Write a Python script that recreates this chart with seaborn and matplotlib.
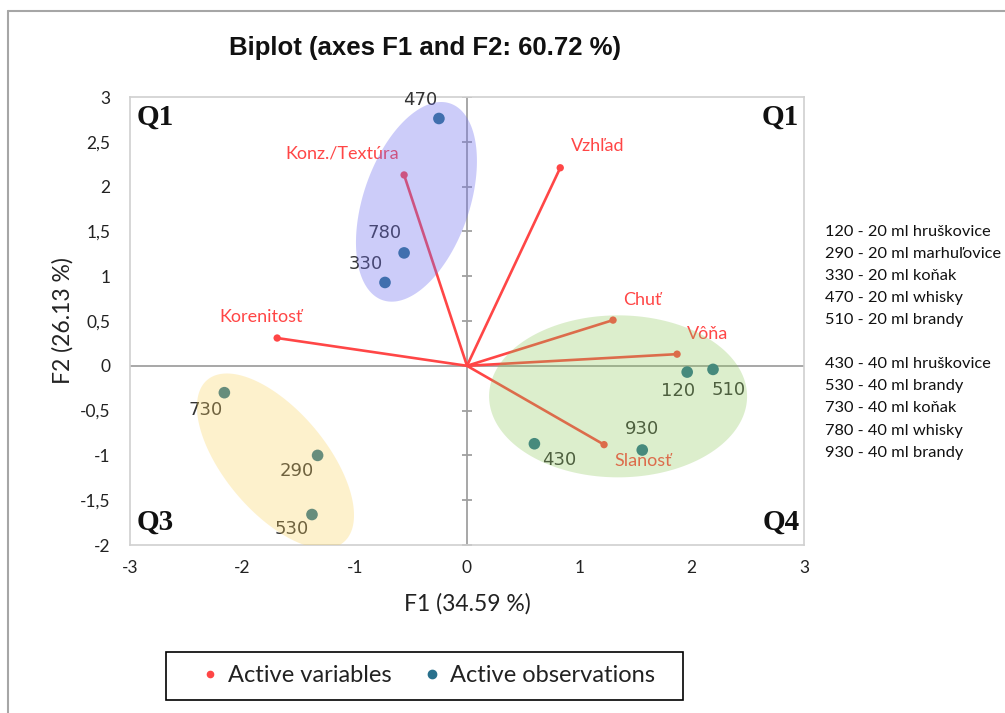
import numpy as np
import pandas as pd
import seaborn as sns
import matplotlib.pyplot as plt
from matplotlib.lines import Line2D
from matplotlib.patches import Rectangle

# observations (F1, F2)
obs_labels = ["120", "290", "330", "470", "510", "430", "530", "730", "780", "930"]
obs_f1 = [1.96, -1.33, -0.73, -0.25, 2.19, 0.60, -1.38, -2.16, -0.56, 1.56]
obs_f2 = [-0.07, -1.00, 0.93, 2.76, -0.04, -0.87, -1.66, -0.30, 1.26, -0.94]

# variables (F1, F2)
var_labels = ["Vzhľad", "Konz./Textúra", "Korenitosť", "Chuť", "Vôňa", "Slanosť"]
var_f1 = [0.83, -0.56, -1.69, 1.30, 1.87, 1.22]
var_f2 = [2.21, 2.13, 0.31, 0.51, 0.13, -0.88]

x_ticks = [-3, -2, -1, 0, 1, 2, 3]
y_ticks = [-2, -1.5, -1, -0.5, 0, 0.5, 1, 1.5, 2, 2.5, 3]
y_ticklabels = ["-2", "-1,5", "-1", "-0,5", "0", "0,5", "1", "1,5", "2", "2,5", "3"]

side_legend = ["120 - 20 ml hruškovice", "290 - 20 ml marhuľovice", "330 - 20 ml koňak",
               "470 - 20 ml whisky", "510 - 20 ml brandy", "",
               "430 - 40 ml hruškovice", "530 - 40 ml brandy", "730 - 40 ml koňak",
               "780 - 40 ml whisky", "930 - 40 ml brandy"]

# label offsets in pixels
obs_off = {"120": (-9, -19), "290": (-21, -16), "330": (-19, 18), "470": (-19, 19),
           "510": (16, -21), "430": (25, -16), "530": (-20, -14), "730": (-19, -17),
           "780": (-20, 20), "930": (0, 21)}
var_off = {"Vzhľad": (37, 22), "Konz./Textúra": (-62, 21), "Korenitosť": (-16, 21),
           "Chuť": (29, 20), "Vôňa": (30, 20), "Slanosť": (39, -16)}

obs = pd.DataFrame({"F1": obs_f1, "F2": obs_f2, "label": obs_labels})
var = pd.DataFrame({"F1": var_f1, "F2": var_f2, "label": var_labels})

sns.set_theme(style="white")
plt.rcParams["font.family"] = ["Lato", "DejaVu Sans"]

RED = "#ff4646"
OBS = "#28708c"
GRAY = "#a0a0a0"

fig = plt.figure(figsize=(10.05, 7.13), dpi=100)
ax = fig.add_axes([130 / 1005, 1 - 545 / 713, 674 / 1005, 448 / 713])
ax.set_xlim(-3, 3)
ax.set_ylim(-2, 3)

for s in ax.spines.values():
    s.set_color("#d0d0d0")
    s.set_linewidth(1.2)

# zero lines, tick marks on the vertical one
ax.axhline(0, color=GRAY, lw=1.3, zorder=1)
ax.axvline(0, color=GRAY, lw=1.3, zorder=1)
ax.plot([0] * len(y_ticks), y_ticks, ls="none", marker="_", ms=7, mew=1.3, color=GRAY, zorder=1)

# variable vectors
for _, r in var.iterrows():
    ax.plot([0, r.F1], [0, r.F2], color=RED, lw=1.9, zorder=2)
sns.scatterplot(data=var, x="F1", y="F2", color=RED, s=28, edgecolor="none", ax=ax, zorder=3)
for _, r in var.iterrows():
    ax.annotate(r.label, (r.F1, r.F2), xytext=var_off[r.label], textcoords="offset pixels",
                ha="center", va="center", color=RED, fontsize=13, zorder=3)

# observations
sns.scatterplot(data=obs, x="F1", y="F2", color=OBS, s=70, edgecolor="none", ax=ax, zorder=3)
for _, r in obs.iterrows():
    ax.annotate(r.label, (r.F1, r.F2), xytext=obs_off[r.label], textcoords="offset pixels",
                ha="center", va="center", color="#333333", fontsize=13,
                family="DejaVu Sans", zorder=3)


# group ellipses (drawn in pixel space, on top)
def ellipse(cx, cy, a, b, ang, color, alpha):
    t = np.linspace(0, 2 * np.pi, 200)
    px, py = ax.transData.transform((cx, cy))
    th = np.deg2rad(ang)
    ex = px + a * np.cos(t) * np.cos(th) - b * np.sin(t) * np.sin(th)
    ey = py + a * np.cos(t) * np.sin(th) + b * np.sin(t) * np.cos(th)
    pts = ax.transData.inverted().transform(np.column_stack([ex, ey]))
    ax.fill(pts[:, 0], pts[:, 1], color=color, alpha=alpha, lw=0, zorder=5)


ellipse(-0.45, 1.83, 104, 53, 71, (0.43, 0.43, 0.94), 0.35)
ellipse(-1.705, -1.063, 106, 51, 130, (0.98, 0.82, 0.35), 0.3)
ellipse(1.345, -0.341, 129, 81, 0, (0.55, 0.78, 0.35), 0.3)

# quadrant labels
qfont = dict(family="Liberation Serif", fontsize=21, fontweight="bold", color="#111111", zorder=6)
ax.text(0.01, 0.985, "Q1", transform=ax.transAxes, ha="left", va="top", **qfont)
ax.text(0.993, 0.985, "Q1", transform=ax.transAxes, ha="right", va="top", **qfont)
ax.text(0.01, 0.02, "Q3", transform=ax.transAxes, ha="left", va="bottom", **qfont)
ax.text(0.993, 0.02, "Q4", transform=ax.transAxes, ha="right", va="bottom", **qfont)

ax.set_xticks(x_ticks)
ax.set_xticklabels([str(v) for v in x_ticks])
ax.set_yticks(y_ticks)
ax.set_yticklabels(y_ticklabels)
ax.tick_params(axis="x", length=0, pad=11, labelsize=12.5, colors="#222222")
ax.tick_params(axis="y", length=0, pad=14, labelsize=12.5, colors="#222222")
ax.set_xlabel("F1 (34.59 %)", fontsize=16.5, color="#222222", labelpad=12)
ax.set_ylabel("F2 (26.13 %)", fontsize=16.5, color="#222222", labelpad=5)

fig.text(425 / 1005, 1 - 48 / 713, "Biplot (axes F1 and F2: 60.72 %)", ha="center", va="center",
         family="Liberation Sans", fontweight="bold", fontsize=18.5, color="#111111")

# side legend
for i, t in enumerate(side_legend):
    fig.text(825 / 1005, 1 - (231.7 + 22.1 * i) / 713, t, ha="left", va="center",
             fontsize=11.8, color="#111111")

# outer chart border (left and top edges visible)
fig.add_artist(Line2D([8 / 1005, 8 / 1005], [0, 1 - 11 / 713], transform=fig.transFigure,
                      color="#a6a6a6", lw=1.5))
fig.add_artist(Line2D([8 / 1005, 1], [1 - 11 / 713, 1 - 11 / 713], transform=fig.transFigure,
                      color="#a6a6a6", lw=1.5))

# bottom legend: frame drawn separately so its size matches
fig.add_artist(Rectangle((166 / 1005, 1 - 700 / 713), 517 / 1005, 48 / 713,
                         transform=fig.transFigure, fill=False, edgecolor="black", lw=1.2))
handles = [Line2D([], [], ls="none", marker="o", ms=4.5, color=RED, label="Active variables"),
           Line2D([], [], ls="none", marker="o", ms=6, color=OBS, label="Active observations")]
leg = fig.legend(handles=handles, loc="center left", bbox_to_anchor=(201 / 1005, 1 - 676 / 713),
                 ncol=2, fontsize=17, frameon=False, handlelength=0.8, handletextpad=0.35,
                 columnspacing=1.3, borderpad=0, borderaxespad=0)
for t in leg.get_texts():
    t.set_color("#222222")

fig.savefig("out.png", dpi=100)
